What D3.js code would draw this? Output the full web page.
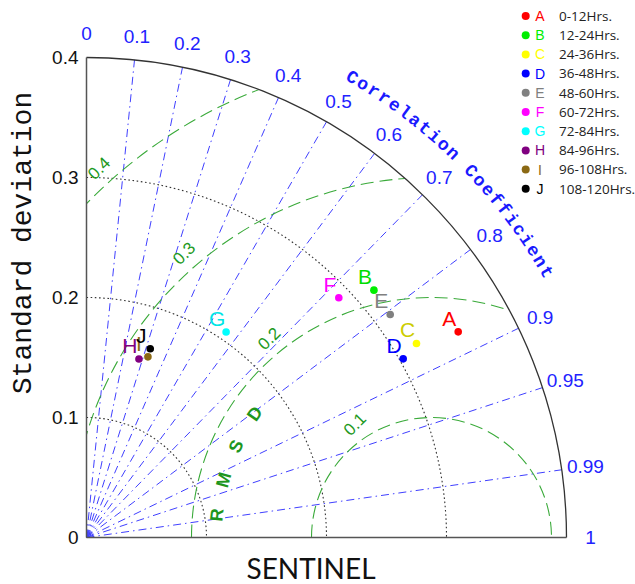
<!DOCTYPE html>
<html><head><meta charset="utf-8">
<script src="https://cdn.jsdelivr.net/npm/d3@7"></script>
<style>body{margin:0;background:#fff} svg{display:block}</style>
</head><body><svg id="chart" width="635" height="584"></svg>
<script>
// ---- data ----
const labels = ["A","B","C","D","E","F","G","H","I","J"];
const periods = ["0-12Hrs.","12-24Hrs.","24-36Hrs.","36-48Hrs.","48-60Hrs.","60-72Hrs.","72-84Hrs.","84-96Hrs.","96-108Hrs.","108-120Hrs."];
const stdValues = [0.354,0.316,0.319,0.303,0.314,0.290,0.207,0.155,0.159,0.166];
const corrValues = [0.875,0.758,0.862,0.871,0.806,0.725,0.562,0.282,0.322,0.320];
const colors = ["#ff0000","#00ee00","#ffff00","#0000ff","#808080","#ff00ff","#00ffff","#800080","#8b6914","#000000"];
const labelColors = ["#ff0000","#00dd00","#cccc00","#0000ff","#808080","#ff00ff","#00e5e5","#800080","#8b6914","#000000"];
const refStd = 0.2875;
const stdTicks = [0,0.1,0.2,0.3,0.4];
const corrTicks = [0,0.1,0.2,0.3,0.4,0.5,0.6,0.7,0.8,0.9,0.95,0.99,1];
const rmsdLevels = [0.1,0.2,0.3,0.4];
const rmsdTitle = ["R","M","S","D"];
const xTitle = "SENTINEL";
const yTitle = "Standard deviation";
const corrTitle = "Correlation Coefficient";

// ---- layout ----
const svg = d3.select("#chart");
const ox = 86.5, oy = 537.5;
const maxStd = 0.4;
const r = d3.scaleLinear().domain([0, maxStd]).range([0, 480]);
const R = r(maxStd);
const pX = (s, c) => ox + r(s) * c;
const pY = (s, c) => oy - r(s) * Math.sin(Math.acos(c));
const blue = "#4040ff";
const defs = svg.append("defs");

// clip to quarter disc
const clipPath = d3.path();
clipPath.moveTo(ox, oy); clipPath.lineTo(ox, oy - R);
clipPath.arc(ox, oy, R, -Math.PI / 2, 0); clipPath.closePath();
defs.append("clipPath").attr("id", "quad").append("path").attr("d", clipPath.toString());

// correlation rays
svg.append("g").selectAll("line").data(corrTicks.filter(c => c > 0 && c < 1)).join("line")
  .attr("x1", ox).attr("y1", oy)
  .attr("x2", c => pX(maxStd, c)).attr("y2", c => pY(maxStd, c))
  .attr("stroke", blue).attr("stroke-width", 1).attr("stroke-dasharray", "8,4,1.5,4");

// std dotted arcs
const stdArc = s => { const p = d3.path(); p.moveTo(ox, oy - r(s)); p.arc(ox, oy, r(s), -Math.PI / 2, 0); return p.toString(); };
svg.append("g").selectAll("path").data(stdTicks.filter(s => s > 0 && s < maxStd)).join("path")
  .attr("d", stdArc).attr("fill", "none").attr("stroke", "#333").attr("stroke-width", 1.1)
  .attr("stroke-dasharray", "1.6,2.6");

// RMSD arcs
const rcx = ox + r(refStd);
const rmsdArc = l => { const p = d3.path(); p.moveTo(rcx - r(l), oy); p.arc(rcx, oy, r(l), Math.PI, 2 * Math.PI); return p.toString(); };
svg.append("g").attr("clip-path", "url(#quad)").selectAll("path").data(rmsdLevels).join("path")
  .attr("d", rmsdArc).attr("fill", "none").attr("stroke", "#3aaa3a").attr("stroke-width", 1.1)
  .attr("stroke-dasharray", "13,6");

// outer arc and axes
svg.append("path").attr("d", stdArc(maxStd)).attr("fill", "none").attr("stroke", "#333").attr("stroke-width", 1.3);
svg.append("line").attr("x1", ox).attr("y1", oy).attr("x2", ox).attr("y2", oy - R).attr("stroke", "#555").attr("stroke-width", 1.5);
svg.append("line").attr("x1", ox).attr("y1", oy).attr("x2", ox + R).attr("y2", oy).attr("stroke", "#555").attr("stroke-width", 1.5);

// std tick labels
svg.append("g").selectAll("text").data(stdTicks).join("text")
  .attr("x", ox - 8).attr("y", s => oy - r(s)).attr("dy", "0.35em")
  .attr("text-anchor", "end").attr("font-family", "Liberation Sans, Arial, sans-serif").attr("font-size", 19)
  .attr("fill", "#111").text(s => d3.format("")(s));

// correlation tick labels
svg.append("g").selectAll("text").data(corrTicks).join("text")
  .attr("x", c => ox + R * 1.05 * c).attr("y", c => oy - R * 1.05 * Math.sin(Math.acos(c))).attr("dy", "0.35em")
  .attr("text-anchor", "middle").attr("font-family", "Liberation Sans, Arial, sans-serif").attr("font-size", 19)
  .attr("fill", "#2222ff").text(c => String(c));

// Correlation Coefficient curved title, one glyph per position
const chars = corrTitle.split("");
const tr = 532, th0 = 60, th1 = 30;
svg.append("g").selectAll("text").data(chars).join("text")
  .attr("transform", (ch, i) => {
    const th = th0 - i * (th0 - th1) / (chars.length - 1);
    const a = th * Math.PI / 180;
    return `translate(${ox + tr * Math.cos(a)},${oy - tr * Math.sin(a)}) rotate(${90 - th})`;
  })
  .attr("text-anchor", "middle").attr("dy", "0.35em")
  .attr("font-family", "Liberation Mono, Courier New, monospace").attr("font-weight", "bold")
  .attr("font-size", 18).attr("fill", "#1a1aff").text(ch => ch);

// RMSD labels, placed along a 45° guide line
const gx = pX(0.318, 1), gy = oy;
svg.append("g").selectAll("text").data(rmsdLevels).join("text")
  .each(function (l) {
    const rho = r(l) + 17, ax = gx - rcx;
    const b = -2 * ax / Math.SQRT2, cc = ax * ax - rho * rho;
    const t = (-b + Math.sqrt(b * b - 4 * cc)) / 2;
    const x = gx - t / Math.SQRT2, y = gy - t / Math.SQRT2;
    d3.select(this).attr("transform", `translate(${x},${y}) rotate(-45)`);
  })
  .attr("text-anchor", "middle").attr("dy", "0.35em")
  .attr("font-family", "Liberation Sans, Arial, sans-serif").attr("font-size", 17)
  .attr("fill", "#229922").text(l => String(l));

// RMSD title letters
const titleAngles = [174, 164.5, 155, 145];
svg.append("g").selectAll("text").data(rmsdTitle).join("text")
  .attr("transform", (d, i) => {
    const th = titleAngles[i] * Math.PI / 180, rho = 216;
    return `translate(${rcx + rho * Math.cos(th)},${oy - rho * Math.sin(th)}) rotate(${-(titleAngles[i] - 90)})`;
  })
  .attr("text-anchor", "middle").attr("dy", "0.35em")
  .attr("font-family", "Liberation Sans, Arial, sans-serif").attr("font-weight", "bold").attr("font-size", 18)
  .attr("fill", "#1e961e").text(d => d);

// points
const pts = labels.map((l, i) => ({ l, i, x: pX(stdValues[i], corrValues[i]), y: pY(stdValues[i], corrValues[i]) }));
svg.append("g").selectAll("circle").data(pts).join("circle")
  .attr("cx", d => d.x).attr("cy", d => d.y).attr("r", 3.8).attr("fill", d => colors[d.i]);
svg.append("g").selectAll("text").data(pts).join("text")
  .attr("x", d => d.x - 9).attr("y", d => d.y - 6).attr("text-anchor", "middle")
  .attr("font-family", "Liberation Sans, Arial, sans-serif").attr("font-size", 21)
  .attr("fill", d => labelColors[d.i]).text(d => d.l);

// axis titles
svg.append("text").attr("x", 311).attr("y", 579).attr("text-anchor", "middle")
  .attr("font-family", "Lato, Open Sans, sans-serif").attr("font-size", 28).attr("fill", "#111").text(xTitle);
svg.append("text").attr("transform", "translate(31,243) rotate(-90)").attr("text-anchor", "middle")
  .attr("font-family", "Liberation Mono, Courier New, monospace").attr("font-size", 28).attr("fill", "#111").text(yTitle);

// legend
const lg = svg.append("g").selectAll("g").data(labels).join("g")
  .attr("transform", (d, i) => `translate(0,${16 + i * 19.2})`);
lg.append("circle").attr("cx", 525.7).attr("cy", 0).attr("r", 4).attr("fill", (d, i) => colors[i]);
lg.append("text").attr("x", 540).attr("y", 0).attr("dy", "0.35em").attr("text-anchor", "middle")
  .attr("font-family", "Liberation Sans, Arial, sans-serif").attr("font-size", 14)
  .attr("fill", (d, i) => colors[i]).text(d => d);
lg.append("text").attr("x", 559).attr("y", 0).attr("dy", "0.35em")
  .attr("font-family", "Open Sans, sans-serif").attr("font-size", 13.5)
  .attr("fill", "#222").text((d, i) => periods[i]);
</script>
</body></html>
